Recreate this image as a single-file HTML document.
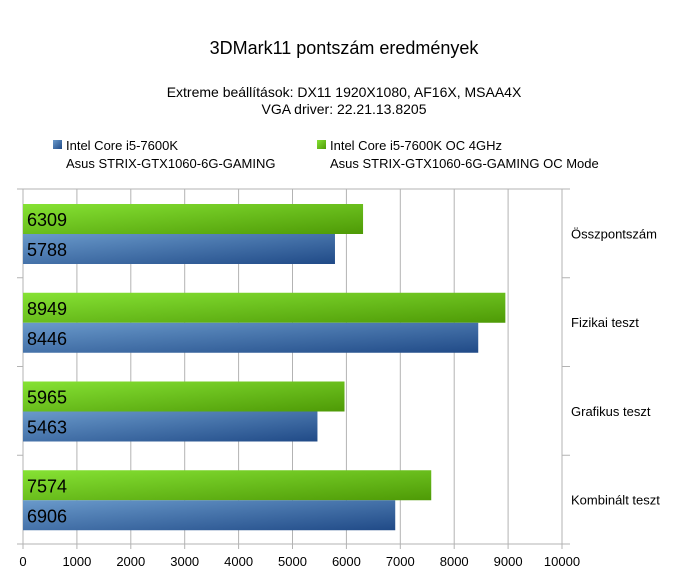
<!DOCTYPE html>
<html><head><meta charset="utf-8"><style>
body{margin:0;background:#fff;font-family:"Liberation Sans",sans-serif}
svg text{font-family:"Liberation Sans",sans-serif}
</style></head><body>
<svg width="680" height="571" viewBox="0 0 680 571">
<defs>
<linearGradient id="gg" x1="0" y1="0" x2="1" y2="1"><stop offset="0" stop-color="#86e234"/><stop offset="1" stop-color="#4e9a06"/></linearGradient>
<linearGradient id="bg" x1="0" y1="0" x2="1" y2="1"><stop offset="0" stop-color="#6a9acb"/><stop offset="1" stop-color="#204a87"/></linearGradient>
</defs>
<text x="344" y="54" font-size="18" text-anchor="middle">3DMark11 pontszám eredmények</text>
<text x="344" y="97" font-size="14" text-anchor="middle">Extreme beállítások: DX11 1920X1080, AF16X, MSAA4X</text>
<text x="344" y="114" font-size="14" text-anchor="middle">VGA driver: 22.21.13.8205</text>
<g>
<rect x="53" y="140" width="9" height="9" fill="url(#bg)"/>
<text x="66" y="150" font-size="13">Intel Core i5-7600K</text>
<text x="66" y="168" font-size="13">Asus STRIX-GTX1060-6G-GAMING</text>
<rect x="317" y="140" width="9" height="9" fill="url(#gg)"/>
<text x="330" y="150" font-size="13">Intel Core i5-7600K OC 4GHz</text>
<text x="330" y="168" font-size="13">Asus STRIX-GTX1060-6G-GAMING OC Mode</text>
</g>
<g id="plot"></g>
</svg>
<script>
const categories=["Összpontszám","Fizikai teszt","Grafikus teszt","Kombinált teszt"];
const ocValues=[6309,8949,5965,7574];
const stockValues=[5788,8446,5463,6906];
const xTicks=[0,1000,2000,3000,4000,5000,6000,7000,8000,9000,10000];
const X0=23,X1=562,TOP=189,BOT=544,MAX=10000;
const xs=v=>X0+(X1-X0)*v/MAX;
const band=(BOT-TOP)/categories.length;
const g=document.getElementById('plot');
const NS="http://www.w3.org/2000/svg";
function mk(t,a){const e=document.createElementNS(NS,t);for(const k in a)e.setAttribute(k,a[k]);g.appendChild(e);return e;}
xTicks.forEach(v=>{
 const l=mk('line',{x1:xs(v),x2:xs(v),y1:TOP,y2:BOT+5,stroke:'#b3b3b3'});
 
 
 const t=mk('text',{x:xs(v),y:BOT+22,'font-size':13,'text-anchor':'middle'});t.textContent=v;
 
 
});
const tl=mk('line',{x1:X0,x2:X1,y1:TOP,y2:TOP,stroke:'#b3b3b3'});


const bl=mk('line',{x1:X0,x2:X1+8,y1:BOT,y2:BOT,stroke:'#b3b3b3'});


for(let i=0;i<=categories.length;i++){
 const y=TOP+band*i;
 const a=mk('line',{x1:X0-6,x2:X0,y1:y,y2:y,stroke:'#b3b3b3'});
 
 
 const b=mk('line',{x1:X1,x2:X1+8,y1:y,y2:y,stroke:'#b3b3b3'});
 
 
}
const ax=mk('line',{x1:X0,x2:X0,y1:TOP,y2:BOT,stroke:'#b3b3b3'});


categories.forEach((c,i)=>{
 const y0=TOP+band*i+15;
 const bh=30;
 const r1=mk('rect',{x:X0,y:y0,width:xs(ocValues[i])-X0,height:bh,fill:'url(#gg)'});
 
 
 const t1=mk('text',{x:X0+4,y:y0+22,'font-size':18});t1.textContent=ocValues[i];
 
 
 const r2=mk('rect',{x:X0,y:y0+bh,width:xs(stockValues[i])-X0,height:bh,fill:'url(#bg)'});
 
 
 const t2=mk('text',{x:X0+4,y:y0+bh+22,'font-size':18});t2.textContent=stockValues[i];
 
 
 const cl=mk('text',{x:571,y:TOP+band*i+band/2+5,'font-size':13});cl.textContent=c;
 
 
});
</script>
</body></html>
